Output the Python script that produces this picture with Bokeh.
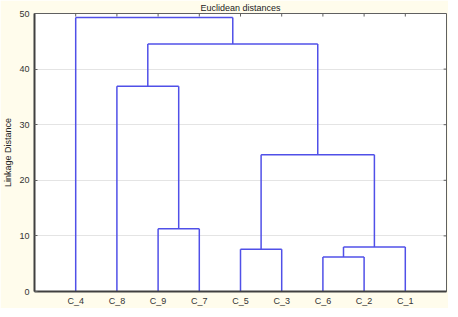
from bokeh.plotting import figure
from bokeh.models import LinearAxis, FixedTicker, Range1d
from bokeh.embed import file_html
from bokeh.resources import INLINE

# Leaf order along the x axis
leaves = ["C_4", "C_8", "C_9", "C_7", "C_5", "C_3", "C_6", "C_2", "C_1"]

# Linkage tree: each merge joins two nodes (leaf names or earlier merge ids) at a height
merge_ids = ["m1", "m2", "m3", "m4", "m5", "m6", "m7", "m8"]
merge_left = ["C_6", "C_5", "m1", "C_9", "m2", "C_8", "m6", "C_4"]
merge_right = ["C_2", "C_3", "C_1", "C_7", "m3", "m4", "m5", "m7"]
merge_height = [6.2, 7.6, 8.0, 11.3, 24.6, 36.9, 44.5, 49.3]

y_ticks = [0, 10, 20, 30, 40, 50]

FONT = "Liberation Sans"
LINE = "#5050E8"
Y_MAX = 50
X_MAX = len(leaves) + 1

pos = {name: i + 1 for i, name in enumerate(leaves)}
hgt = {name: 0.0 for name in leaves}
x0, y0, x1, y1 = [], [], [], []
for mid, a, b, h in zip(merge_ids, merge_left, merge_right, merge_height):
    for c in (a, b):
        x0.append(pos[c]); y0.append(hgt[c]); x1.append(pos[c]); y1.append(h)
    x0.append(pos[a]); y0.append(h); x1.append(pos[b]); y1.append(h)
    pos[mid] = (pos[a] + pos[b]) / 2
    hgt[mid] = h

p = figure(frame_width=412, frame_height=278, output_backend="svg", toolbar_location=None,
           x_range=Range1d(0, X_MAX), y_range=Range1d(0, Y_MAX),
           x_axis_location=None, y_axis_location=None,
           min_border_left=0, min_border_right=2, min_border_top=0, min_border_bottom=0,
           title="Euclidean distances")

p.background_fill_color = "white"
p.border_fill_color = "#FFFCEC"
p.outline_line_color = "#606060"
p.outline_line_width = 1

p.title.align = "center"
p.title.text_font = FONT
p.title.text_font_size = "9px"
p.title.text_font_style = "normal"
p.title.text_color = "#222222"
p.title.standoff = 1

# inward tick marks on the top and right borders (small fraction of the range)
leaf_ticks = list(range(1, len(leaves) + 1))
tk_y = Y_MAX * 0.011
tk_x = X_MAX * 0.007
p.segment(x0=leaf_ticks, y0=[Y_MAX] * len(leaf_ticks), x1=leaf_ticks,
          y1=[Y_MAX - tk_y] * len(leaf_ticks), line_color="#606060", line_width=1)
p.segment(x0=[X_MAX] * len(y_ticks), y0=y_ticks, x1=[X_MAX - tk_x] * len(y_ticks),
          y1=y_ticks, line_color="#606060", line_width=1)

p.segment(x0=x0, y0=y0, x1=x1, y1=y1, line_color=LINE, line_width=1.5)

overrides = {i + 1: name for i, name in enumerate(leaves)}

bottom = LinearAxis(ticker=FixedTicker(ticks=leaf_ticks), major_label_overrides=overrides)
bottom.axis_line_color = "#404040"
bottom.axis_line_width = 2
bottom.major_tick_line_color = None
bottom.major_tick_in = 0
bottom.major_tick_out = 0
bottom.minor_tick_line_color = None
bottom.minor_tick_in = 0
bottom.minor_tick_out = 0
bottom.major_label_text_font = FONT
bottom.major_label_text_font_size = "9px"
bottom.major_label_text_color = "#333333"
bottom.major_label_standoff = 4
p.add_layout(bottom, "below")

left = LinearAxis(ticker=FixedTicker(ticks=y_ticks), axis_label="Linkage Distance")
left.axis_line_color = "#404040"
left.axis_line_width = 2
left.major_tick_in = 3
left.major_tick_out = 0
left.major_tick_line_color = "#606060"
left.minor_tick_line_color = None
left.minor_tick_in = 0
left.minor_tick_out = 0
left.major_label_text_font = FONT
left.major_label_text_font_size = "9px"
left.major_label_text_color = "#333333"
left.major_label_standoff = 5
left.axis_label_text_font = FONT
left.axis_label_text_font_size = "9px"
left.axis_label_text_font_style = "normal"
left.axis_label_text_color = "#222222"
left.axis_label_standoff = 3
p.add_layout(left, "left")

p.ygrid.ticker = FixedTicker(ticks=[10, 20, 30, 40])
p.ygrid.grid_line_color = "#C8C8C8"
p.ygrid.grid_line_dash = "1 1"
p.xgrid.visible = False

open("out.html", "w").write(file_html(p, INLINE))
